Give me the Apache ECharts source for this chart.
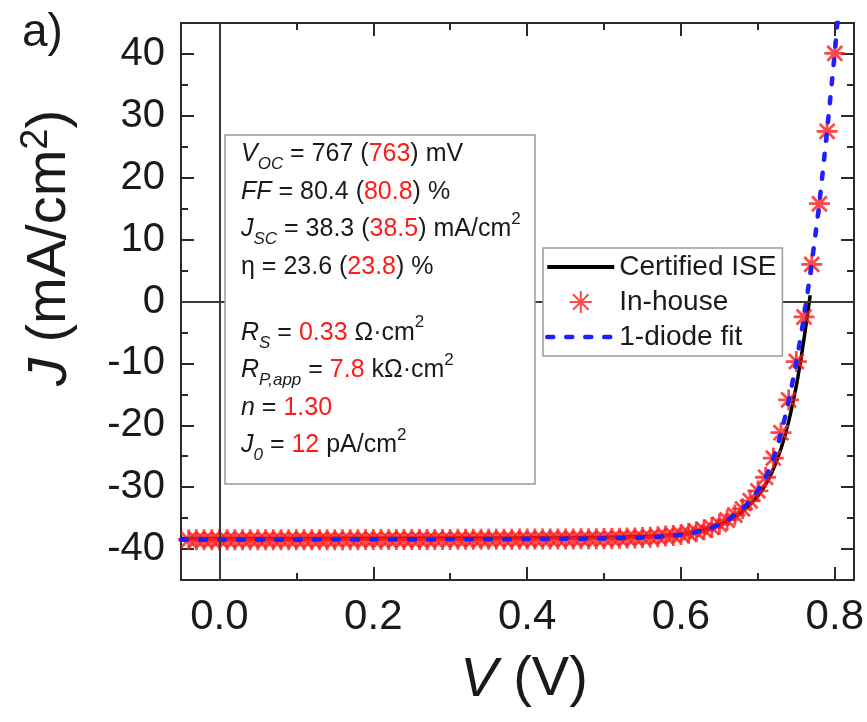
<!DOCTYPE html>
<html>
<head>
<meta charset="utf-8">
<script src="https://cdn.jsdelivr.net/npm/echarts@6/dist/echarts.min.js"></script>
<style>
  html, body { margin: 0; padding: 0; background: #fff; }
  #chart { width: 867px; height: 722px; }
</style>
</head>
<body>
<div id="chart"></div>
<script>
// Certified ISE measurement (black line)
const certV = [-0.05, 0.1, 0.2, 0.3, 0.4, 0.5, 0.55, 0.6, 0.62, 0.64, 0.66, 0.68, 0.7, 0.71, 0.72, 0.73, 0.74, 0.75, 0.755, 0.76, 0.765, 0.768];
const certJ = [-38.3, -38.28, -38.25, -38.22, -38.18, -38.08, -37.95, -37.6, -37.2, -36.55, -35.5, -33.9, -31.4, -29.6, -27.1, -23.8, -19.4, -13.6, -10.0, -6.0, -1.6, 1.0];

// In-house measurement (red stars)
const inV = [-0.04, -0.03, -0.02, -0.01, 0.0, 0.01, 0.02, 0.03, 0.04, 0.05, 0.06, 0.07, 0.08, 0.09,
  0.1, 0.11, 0.12, 0.13, 0.14, 0.15, 0.16, 0.17, 0.18, 0.19, 0.2, 0.21, 0.22, 0.23, 0.24, 0.25, 0.26, 0.27, 0.28, 0.29,
  0.3, 0.31, 0.32, 0.33, 0.34, 0.35, 0.36, 0.37, 0.38, 0.39, 0.4, 0.41, 0.42, 0.43, 0.44, 0.45, 0.46, 0.47, 0.48, 0.49,
  0.5, 0.51, 0.52, 0.53, 0.54, 0.55, 0.56, 0.57, 0.58, 0.59, 0.6, 0.61, 0.62, 0.63, 0.64, 0.65, 0.66, 0.67, 0.68, 0.69,
  0.7, 0.71, 0.72, 0.73, 0.74, 0.75, 0.76, 0.77, 0.78, 0.79, 0.8];
const inJ = [-38.5, -38.5, -38.5, -38.5, -38.5, -38.5, -38.5, -38.5, -38.5, -38.5, -38.5, -38.5, -38.5, -38.5,
  -38.5, -38.5, -38.5, -38.5, -38.5, -38.48, -38.48, -38.48, -38.48, -38.47, -38.47, -38.47, -38.46, -38.46, -38.46, -38.45, -38.45, -38.45, -38.44, -38.44,
  -38.44, -38.43, -38.43, -38.42, -38.42, -38.41, -38.41, -38.4, -38.4, -38.39, -38.39, -38.38, -38.38, -38.37, -38.37, -38.36, -38.36, -38.35, -38.34, -38.33,
  -38.3, -38.3, -38.25, -38.2, -38.2, -38.15, -38.1, -38.0, -37.9, -37.8, -37.65, -37.45, -37.2, -36.9, -36.5, -36.0, -35.3, -34.5, -33.5, -32.2,
  -30.6, -28.4, -25.3, -21.2, -15.9, -9.7, -2.5, 6.0, 15.8, 27.5, 40.1];

// 1-diode fit (blue dashed)
const fitV = [-0.05, 0.0, 0.1, 0.2, 0.3, 0.4, 0.45, 0.5, 0.55, 0.58, 0.6, 0.62, 0.64, 0.65, 0.66, 0.67, 0.68, 0.69, 0.7, 0.71, 0.72, 0.73, 0.74, 0.75, 0.76, 0.77, 0.78, 0.79, 0.8, 0.804];
const fitJ = [-38.5, -38.5, -38.48, -38.46, -38.43, -38.39, -38.35, -38.28, -38.15, -37.95, -37.7, -37.25, -36.55, -36.05, -35.35, -34.5, -33.45, -32.15, -30.55, -28.45, -25.45, -21.35, -16.1, -9.8, -2.4, 6.2, 16.0, 27.7, 40.3, 46];

// axis ticks
const xLabelTicks = [0, 0.2, 0.4, 0.6, 0.8];
const xMinorTicks = [0, 0.1, 0.2, 0.3, 0.4, 0.5, 0.6, 0.7, 0.8];
const yLabelTicks = [-40, -30, -20, -10, 0, 10, 20, 30, 40];
const yMinorTicks = [-40, -35, -30, -25, -20, -15, -10, -5, 0, 5, 10, 15, 20, 25, 30, 35, 40];

const zip = (a, b) => a.map((v, i) => [v, b[i]]);

const FONT = 'Liberation Sans';
const INK = '#1a1a1a';
const FRAME = '#2a2a2a';
const RED = '#ff1a1a';
const BLUE = '#1f1fff';

function frameAxis(position, min, max, ticks, len, showLine, labels, fmt, size) {
  return {
    type: 'value',
    position: position,
    min: min,
    max: max,
    splitLine: { show: false },
    axisLine: { show: showLine, onZero: false, lineStyle: { color: FRAME, width: 2 } },
    axisTick: { show: true, inside: true, length: len, customValues: ticks, lineStyle: { color: FRAME, width: 2 } },
    axisLabel: labels
      ? { show: true, customValues: labels, margin: 16, fontFamily: FONT, fontSize: size, color: INK, formatter: fmt }
      : { show: false }
  };
}

const boxLines = [
  '{i|V}{sub|OC}{t| = 767 (}{r|763}{t|) mV}',
  '{i|FF}{t| = 80.4 (}{r|80.8}{t|) %}',
  '{i|J}{sub|SC}{t| = 38.3 (}{r|38.5}{t|) mA/cm}{sup|2}',
  '{t|η = 23.6 (}{r|23.8}{t|) %}',
  '{gap| }',
  '{i|R}{sub|S}{t| = }{r|0.33}{t| Ω·cm}{sup|2}',
  '{i|R}{sub|P,app}{t| = }{r|7.8}{t| kΩ·cm}{sup|2}',
  '{i|n}{t| = }{r|1.30}',
  '{i|J}{sub|0}{t| = }{r|12}{t| pA/cm}{sup|2}'
];

const LH = 37.5;
const boxRich = {
  t: { fontFamily: FONT, fontSize: 25, lineHeight: LH, fill: INK },
  i: { fontFamily: FONT, fontSize: 25, fontStyle: 'italic', lineHeight: LH, fill: INK },
  r: { fontFamily: FONT, fontSize: 25, lineHeight: LH, fill: RED },
  sub: { fontFamily: FONT, fontSize: 17, fontStyle: 'italic', lineHeight: 20, verticalAlign: 'bottom', fill: INK },
  sup: { fontFamily: FONT, fontSize: 17, lineHeight: 22, verticalAlign: 'top', fill: INK },
  gap: { fontFamily: FONT, fontSize: 10, lineHeight: 28.5, fill: INK }
};

const titleRich = {
  t: { fontFamily: FONT, fontSize: 56, lineHeight: 64, fill: INK },
  i: { fontFamily: FONT, fontSize: 56, lineHeight: 64, fontStyle: 'italic', fill: INK },
  sup: { fontFamily: FONT, fontSize: 38, lineHeight: 40, verticalAlign: 'top', fill: INK }
};

const chart = echarts.init(document.getElementById('chart'));

const option = {
  animation: false,
  backgroundColor: '#fff',
  grid: { left: 181, top: 23, right: 11, bottom: 142 },
  xAxis: [
    frameAxis('bottom', -0.05, 0.825, xMinorTicks, 7, true, xLabelTicks, (v) => v.toFixed(1), 42),
    frameAxis('bottom', -0.05, 0.825, xLabelTicks, 13, false),
    frameAxis('top', -0.05, 0.825, xMinorTicks, 7, true),
    frameAxis('top', -0.05, 0.825, xLabelTicks, 13, false)
  ],
  yAxis: [
    frameAxis('left', -45, 45, yMinorTicks, 7, true, yLabelTicks, (v) => String(v), 40),
    frameAxis('left', -45, 45, yLabelTicks, 13, false),
    frameAxis('right', -45, 45, yMinorTicks, 7, true),
    frameAxis('right', -45, 45, yLabelTicks, 13, false)
  ],
  legend: {
    orient: 'vertical',
    left: 543,
    top: 248,
    padding: [5, 6, 5, 2],
    itemGap: 7,
    itemWidth: 67,
    itemHeight: 22,
    backgroundColor: '#fff',
    borderColor: '#9a9a9a',
    borderWidth: 1.5,
    selectedMode: false,
    z: 10,
    textStyle: { fontFamily: FONT, fontSize: 28, lineHeight: 28, color: INK },
    data: [
      { name: 'Certified ISE', itemStyle: { opacity: 0 }, lineStyle: { color: '#000', width: 4 } },
      { name: 'In-house' },
      { name: '1-diode fit', itemStyle: { opacity: 0 }, lineStyle: { color: BLUE, width: 4.5, type: [6, 13], cap: 'round' } }
    ]
  },
  series: [
    {
      name: 'Certified ISE',
      type: 'line',
      data: zip(certV, certJ),
      symbol: 'none',
      smooth: 0.2,
      lineStyle: { color: '#000', width: 3.5 },
      itemStyle: { color: '#000' },
      z: 2,
      markLine: {
        silent: true,
        symbol: ['none', 'none'],
        label: { show: false },
        lineStyle: { color: '#3a3a3a', width: 2, type: 'solid' },
        data: [{ xAxis: 0 }, { yAxis: 0 }]
      }
    },
    {
      name: 'In-house',
      type: 'scatter',
      data: zip(inV, inJ),
      symbol: 'path://M10 0 L10 20 M0 10 L20 10 M2.93 2.93 L17.07 17.07 M2.93 17.07 L17.07 2.93',
      symbolSize: 21,
      itemStyle: { color: RED, borderColor: RED, borderWidth: 2.8 },
      z: 3
    },
    {
      name: '1-diode fit',
      type: 'line',
      data: zip(fitV, fitJ),
      symbol: 'none',
      smooth: 0.2,
      lineStyle: { color: BLUE, width: 4.5, type: [6, 13], cap: 'round' },
      itemStyle: { color: BLUE },
      z: 4
    }
  ],
  graphic: [
    { type: 'text', left: 22, top: 10, style: { text: 'a)', fontFamily: FONT, fontSize: 46, fill: INK } },
    {
      type: 'rect', z: 10,
      shape: { x: 225, y: 135, width: 310, height: 349 },
      style: { fill: '#fff', stroke: '#9a9a9a', lineWidth: 1.5 }
    },
    {
      type: 'text', z: 11, x: 241, y: 135.5,
      style: { text: boxLines.join('\n'), rich: boxRich, verticalAlign: 'top', align: 'left' }
    },
    {
      type: 'text', x: 50, y: 248, rotation: Math.PI / 2,
      style: { text: '{i|J}{t| (mA/cm}{sup|2}{t|)}', rich: titleRich, align: 'center', verticalAlign: 'middle' }
    },
    {
      type: 'text', x: 524, y: 680,
      style: { text: '{i|V}{t| (V)}', rich: titleRich, align: 'center', verticalAlign: 'middle' }
    }
  ]
};

chart.setOption(option);
</script>
</body>
</html>
